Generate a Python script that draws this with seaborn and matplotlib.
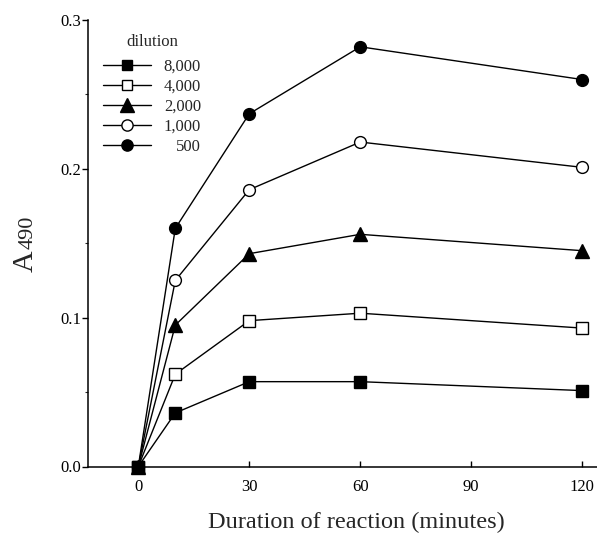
import matplotlib
matplotlib.use("Agg")
import matplotlib.pyplot as plt
import matplotlib.transforms as mtransforms
from matplotlib.lines import Line2D
from matplotlib.ticker import MultipleLocator, FormatStrFormatter
import seaborn as sns
import pandas as pd

# ---- data ----
minutes = [0, 10, 30, 60, 120]
dilutions = ["8,000", "4,000", "2,000", "1,000", "500"]
a490_8000 = [0.0, 0.036, 0.057, 0.057, 0.051]
a490_4000 = [0.0, 0.062, 0.098, 0.103, 0.093]
a490_2000 = [0.0, 0.095, 0.143, 0.156, 0.145]
a490_1000 = [0.0, 0.125, 0.186, 0.218, 0.201]
a490_500 = [0.0, 0.160, 0.237, 0.282, 0.260]
x_ticks = [0, 30, 60, 90, 120]
y_ticks = [0.0, 0.1, 0.2, 0.3]

series = [a490_8000, a490_4000, a490_2000, a490_1000, a490_500]
styles = [
    dict(marker="s", mfc="black", ms=8),
    dict(marker="s", mfc="white", ms=8),
    dict(marker="^", mfc="black", ms=10),
    dict(marker="o", mfc="white", ms=8.5),
    dict(marker="o", mfc="black", ms=8.5),
]

sns.set_style("ticks")
plt.rcParams["font.family"] = ["Liberation Serif", "DejaVu Serif"]

fig = plt.figure(figsize=(5.97, 5.41), dpi=100)
ax = fig.add_axes([88 / 597, 1 - 466.5 / 541, (597 - 88) / 597, (466.5 - 20) / 541])

# draw 500 first so 8,000 ends on top
for lab, vals, st in reversed(list(zip(dilutions, series, styles))):
    df = pd.DataFrame({"minutes": minutes, "A490": vals})
    sns.lineplot(data=df, x="minutes", y="A490", ax=ax, color="black",
                 linewidth=1.0, marker=st["marker"], markersize=st["ms"],
                 markerfacecolor=st["mfc"], markeredgecolor="black",
                 markeredgewidth=1.0, clip_on=False, zorder=3)

ax.set_xlim(-13.6, 124)
ax.set_ylim(0, 0.3)
ax.set_xticks(x_ticks)
ax.set_yticks(y_ticks)
ax.yaxis.set_major_formatter(FormatStrFormatter("%.1f"))
ax.yaxis.set_minor_locator(MultipleLocator(0.05))
ax.set_xlabel("")
ax.set_ylabel("")
for s in ["top", "right"]:
    ax.spines[s].set_visible(False)
for s in ["left", "bottom"]:
    ax.spines[s].set_linewidth(1.1)
    ax.spines[s].set_color("black")
ax.tick_params(axis="y", which="major", direction="out", length=4, width=1.0,
               pad=1, labelsize=12, colors="black")
ax.tick_params(axis="y", which="minor", direction="out", length=2, width=0.8)
ax.tick_params(axis="x", which="major", direction="in", length=4, width=1.0,
               pad=9, labelsize=12, colors="black")
ax.set_facecolor("white")

# axis titles
fig.text(356 / 597, 1 - 522 / 541, "Duration of reaction (minutes)",
         ha="center", va="center", fontsize=17.5)
fig.text(33 / 597, 1 - 272 / 541, "A", rotation=90, rotation_mode="anchor",
         ha="left", va="baseline", fontsize=21.5)
fig.text(33 / 597, 1 - 249 / 541, "490", rotation=90, rotation_mode="anchor",
         ha="left", va="baseline", fontsize=16)

# legend
handles = [Line2D([0], [0], color="black", linewidth=1.0, marker=st["marker"],
                  markersize=st["ms"] * 0.95, markerfacecolor=st["mfc"],
                  markeredgecolor="black", markeredgewidth=1.0)
           for st in styles]
leg = fig.legend(handles, dilutions, title="dilution", loc="upper left",
                 bbox_to_anchor=(103 / 597, 1 - 33.5 / 541), frameon=False,
                 fontsize=12, title_fontsize=12, handlelength=2.85,
                 handletextpad=0.8, labelspacing=0.24, borderpad=0,
                 borderaxespad=0)
leg._legend_box.sep = 6.5  # gap between title and entries (points)

fig.canvas.draw()
r = fig.canvas.get_renderer()
texts = leg.get_texts()
widths = [t.get_window_extent(r).width for t in texts]
mw = max(widths)
for t, w in zip(texts, widths):
    t.set_transform(t.get_transform() + mtransforms.Affine2D().translate(mw - w, 0))

fig.savefig("out.png", dpi=100, facecolor="white")
